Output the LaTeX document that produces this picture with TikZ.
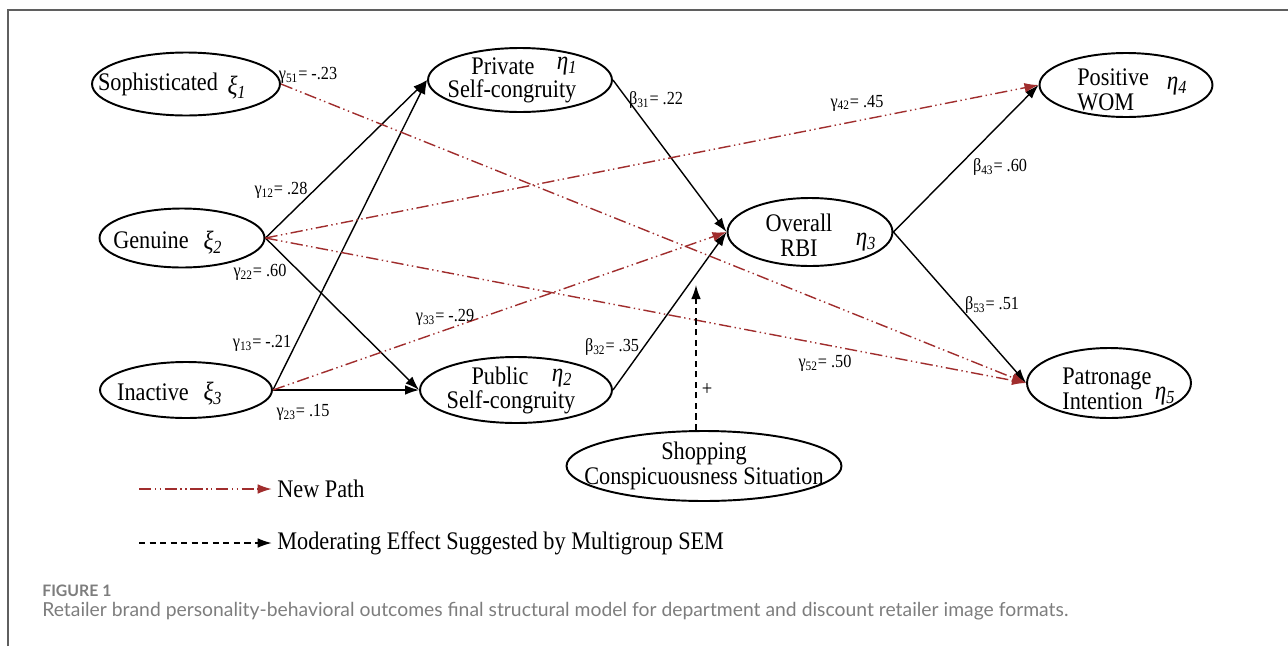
\documentclass[tikz,border=0pt]{standalone}
\usepackage{fontspec}
\setmainfont{Liberation Serif}[FakeStretch=0.88]
\newfontfamily\capfont{Lato}
\usetikzlibrary{arrows.meta,shapes.geometric}

\definecolor{newred}{RGB}{160,45,45}
\definecolor{capgray}{RGB}{125,125,125}
\definecolor{framegray}{RGB}{95,95,95}

% latent variable symbol with italic index
\newcommand{\lv}[2]{\textit{#1}\textsubscript{\textit{#2}}}

\begin{document}
\begin{tikzpicture}[
  x=0.02cm, y=-0.02cm,
  latent/.style={ellipse, draw, line width=1.1pt, inner sep=0pt},
  words/.style={inner sep=0pt, align=center, font=\fontsize{14.4}{14.2}\selectfont},
  greek/.style={inner sep=0pt, font=\fontsize{15}{15}\selectfont},
  coef/.style={inner sep=0pt, font=\fontsize{10.5}{11}\selectfont},
  link/.style={line width=0.8pt, -{Latex[length=8pt,width=5.5pt]}},
  newlink/.style={link, color=newred, dash pattern=on 7pt off 2pt on 0.8pt off 2pt on 0.8pt off 2pt},
  modlink/.style={link, dash pattern=on 3.5pt off 2.5pt}
  ]
  \useasboundingbox (0,0) rectangle (1288,646);
  \draw[framegray, line width=1.1pt] (8,646) -- (8,10) -- (1288,10);

  % latent variables
  \node[latent, minimum width=3.76cm, minimum height=1.26cm] (soph) at (186,84) {};
  \node[latent, minimum width=3.3cm, minimum height=1.18cm] (gen) at (182,238) {};
  \node[latent, minimum width=3.44cm, minimum height=1.12cm] (inact) at (186,390) {};
  \node[latent, minimum width=3.68cm, minimum height=1.28cm] (priv) at (520,80) {};
  \node[latent, minimum width=3.84cm, minimum height=1.32cm] (pub) at (516,390) {};
  \node[latent, minimum width=3.3cm, minimum height=1.36cm] (ovr) at (810,232) {};
  \node[latent, minimum width=3.46cm, minimum height=1.28cm] (pos) at (1126,85) {};
  \node[latent, minimum width=3.28cm, minimum height=1.4cm] (pat) at (1109,383) {};
  \node[latent, minimum width=5.5cm, minimum height=1.4cm] (shop) at (704,466) {};

  \node[words] (soph-t) at (158,84) {Sophisticated};
  \node[greek] (xi1) at (237,88) {\lv{ξ}{1}};
  \node[words] (gen-t) at (151,240) {Genuine};
  \node[greek] (xi2) at (213,243) {\lv{ξ}{2}};
  \node[words] (inact-t) at (153,392) {Inactive};
  \node[greek] (xi3) at (213,394) {\lv{ξ}{3}};
  \node[words] (priv-t1) at (503,66) {Private};
  \node[words] (priv-t2) at (512,91) {Self-congruity};
  \node[greek] (eta1) at (567,66) {\lv{η}{1}};
  \node[words] (pub-t1) at (500,376) {Public};
  \node[words] (pub-t2) at (511,402) {Self-congruity};
  \node[greek] (eta2) at (562,378) {\lv{η}{2}};
  \node[words] (ovr-t) at (799,235) {Overall\\RBI};
  \node[greek] (eta3) at (866,242) {\lv{η}{3}};
  \node[words, align=left, anchor=west] (pos-t) at (1077,90) {Positive\\WOM};
  \node[greek] (eta4) at (1177,86) {\lv{η}{4}};
  \node[words, align=left, anchor=west] (pat-t) at (1062,389) {Patronage\\Intention};
  \node[greek] (eta5) at (1165,396) {\lv{η}{5}};
  \node[words] (shop-t) at (704,466) {Shopping\\Conspicuousness Situation};

  % hypothesised paths
  \draw[link] (gen.east) -- (priv.west);
  \draw[link] (inact.east) -- (priv.west);
  \draw[link] (gen.east) -- (pub.west);
  \draw[link] (inact.east) -- (pub.west);
  \draw[link] (priv.east) -- (ovr.west);
  \draw[link] (pub.east) -- (ovr.west);
  \draw[link] (ovr.east) -- (pos.west);
  \draw[link] (ovr.east) -- (pat.west);

  % new paths
  \draw[newlink] (soph.east) -- (pat.west);
  \draw[newlink] (gen.east) -- (pos.west);
  \draw[newlink] (gen.east) -- (pat.west);
  \draw[newlink] (inact.east) -- (ovr.west);

  % moderation
  \coordinate (modtip) at (696,285);
  \draw[modlink] (modtip |- shop.north) -- (modtip);
  \node[coef, font=\fontsize{12}{12}\selectfont] (plus) at (707,390) {+};

  % coefficients
  \node[coef] (g51) at (308,75) {γ\textsubscript{51}= -.23};
  \node[coef] (g12) at (281,190) {γ\textsubscript{12}= .28};
  \node[coef] (b31) at (656,100) {β\textsubscript{31}= .22};
  \node[coef] (g42) at (857,103) {γ\textsubscript{42}= .45};
  \node[coef] (b43) at (1000,167) {β\textsubscript{43}= .60};
  \node[coef] (g22) at (260,272) {γ\textsubscript{22}= .60};
  \node[coef] (g13) at (262,343) {γ\textsubscript{13}= -.21};
  \node[coef] (g33) at (445,317) {γ\textsubscript{33}= -.29};
  \node[coef] (g23) at (303,412) {γ\textsubscript{23}= .15};
  \node[coef] (b32) at (612,347) {β\textsubscript{32}= .35};
  \node[coef] (g52) at (825,363) {γ\textsubscript{52}= .50};
  \node[coef] (b53) at (992,305) {β\textsubscript{53}= .51};

  % legend
  \coordinate (leg1a) at (139,489);
  \node[words, anchor=west] (leg1) at (277,489) {New Path};
  \draw[newlink, shorten >=3pt] (leg1a) -- (leg1.west);
  \coordinate (leg2a) at (139,543);
  \node[words, anchor=west] (leg2) at (277,543) {Moderating Effect Suggested by Multigroup SEM};
  \draw[modlink, shorten >=3pt] (leg2a) -- (leg2.west);

  % caption
  \node[anchor=west, inner sep=0pt, capgray, font=\capfont\bfseries\fontsize{9}{10}\selectfont] (fig) at (42,591) {FIGURE 1};
  \node[anchor=west, inner sep=0pt, capgray, font=\capfont\fontsize{11}{13}\selectfont] (cap) at (42,611) {Retailer brand personality-behavioral outcomes final structural model for department and discount retailer image formats.};
\end{tikzpicture}
\end{document}
